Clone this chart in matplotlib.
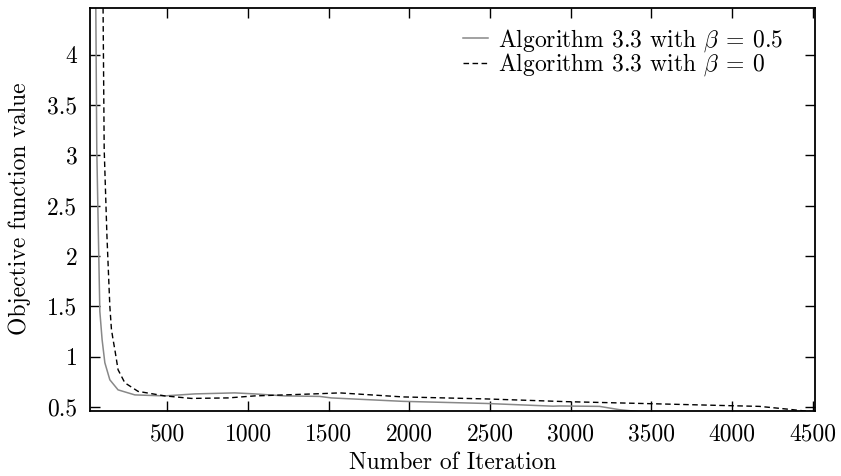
import matplotlib
matplotlib.use("Agg")
import matplotlib.pyplot as plt
from matplotlib.ticker import FixedLocator, FormatStrFormatter

plt.rcParams['font.family'] = 'serif'
plt.rcParams['font.serif'] = ['cmr10']
plt.rcParams['mathtext.fontset'] = 'cm'
plt.rcParams['axes.formatter.use_mathtext'] = True
plt.rcParams['axes.unicode_minus'] = False

# Algorithm 3.3 with beta = 0.5 (grey solid)
iter_a = [20, 50, 56, 62, 72, 81, 95, 112, 143, 194, 298, 484, 670, 917, 1041,
          1227, 1444, 1516, 1960, 2476, 2890, 2931, 3179, 3303, 3450, 4000, 4515]
val_a = [20.0, 5.0, 4.47, 3.06, 2.2, 1.45, 1.17, 0.94, 0.77, 0.67, 0.62, 0.61,
         0.63, 0.64, 0.63, 0.61, 0.605, 0.59, 0.556, 0.535, 0.508, 0.51, 0.506,
         0.473, 0.45, 0.44, 0.43]

# Algorithm 3.3 with beta = 0 (black dashed)
iter_b = [20, 95, 101, 108, 125, 143, 153, 163, 174, 194, 236, 318, 484, 649,
          876, 1041, 1227, 1444, 1568, 1960, 2476, 2972, 3489, 3985, 4170, 4335,
          4418, 4515]
val_b = [30.0, 5.5, 4.47, 3.06, 2.2, 1.5, 1.27, 1.17, 1.07, 0.87, 0.74, 0.655,
         0.61, 0.585, 0.59, 0.61, 0.62, 0.632, 0.64, 0.60, 0.58, 0.553, 0.533,
         0.513, 0.506, 0.48, 0.466, 0.45]

label_a = r'Algorithm 3.3 with $\beta\:=\:0.5$'
label_b = r'Algorithm 3.3 with $\beta\:=\:0$'
x_ticks = [500, 1000, 1500, 2000, 2500, 3000, 3500, 4000, 4500]
y_ticks = [0.5, 1, 1.5, 2, 2.5, 3, 3.5, 4]

FS = 17

fig = plt.figure(figsize=(8.41, 4.76), dpi=100)
ax = fig.add_axes([90/841, 1-410.7/476, (815-90)/841, (410.7-7.5)/476])

ax.plot(iter_a, val_a, color='#888888', lw=1.1, label=label_a)
ax.plot(iter_b, val_b, color='black', lw=1.0, dashes=(4, 2.5), label=label_b)

ax.set_xlim(20, 4515)
ax.set_ylim(0.463, 4.47)
ax.xaxis.set_major_locator(FixedLocator(x_ticks))
ax.yaxis.set_major_locator(FixedLocator(y_ticks))
ax.yaxis.set_major_formatter(FormatStrFormatter('%g'))
ax.xaxis.set_major_formatter(FormatStrFormatter('%g'))
ax.tick_params(direction='in', length=7, width=1.0, top=True, right=True,
               labelsize=FS)
ax.tick_params(axis='y', pad=9)
ax.tick_params(axis='x', pad=9)
for s in ax.spines.values():
    s.set_linewidth(1.3)

ax.set_xlabel('Number of Iteration', fontsize=FS, labelpad=5)
ax.set_ylabel('Objective function value', fontsize=FS, labelpad=12)

leg = ax.legend(loc='upper right', bbox_to_anchor=(0.956, 0.952), frameon=False,
                fontsize=FS, handlelength=1.06, handletextpad=0.42,
                labelspacing=-0.08, borderpad=0, borderaxespad=0)

fig.savefig('out.png', dpi=100)
